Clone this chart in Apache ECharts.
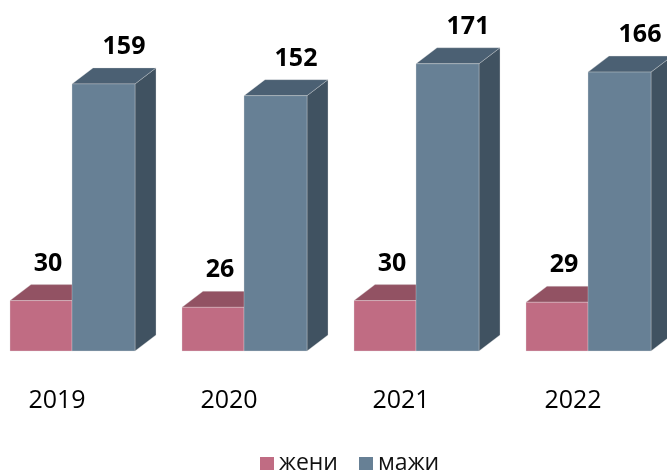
<!DOCTYPE html>
<html>
<head>
<meta charset="utf-8">
<script src="https://cdn.jsdelivr.net/npm/echarts@6/dist/echarts.min.js"></script>
<style>html,body{margin:0;padding:0;background:#fff}#c{width:667px;height:472px}</style>
</head>
<body>
<div id="c"></div>
<script>
const years = ['2019', '2020', '2021', '2022'];
const women = [30, 26, 30, 29];
const men = [159, 152, 171, 166];
const seriesNames = ['жени', 'мажи'];

const chart = echarts.init(document.getElementById('c'), null, {renderer: 'canvas'});

function makeRender(x0, x1, front, topC, side, labelDx) {
  return function (params, api) {
    const cat = api.value(0);
    const v = api.value(1);
    const t = api.coord([cat, v]);
    const b = api.coord([cat, 0]);
    const cx = t[0];
    const xl = cx + x0, xr = cx + x1;
    const yt = t[1], yb = b[1];
    const dx = 21, dy = 16;
    const edge = 'rgba(225,225,225,0.55)';
    return {
      type: 'group',
      children: [
        {type: 'polygon', shape: {points: [[xr, yt], [xr + dx, yt - dy], [xr + dx, yb - dy], [xr, yb]]},
          style: {fill: side, stroke: edge, lineWidth: 0.6}},
        {type: 'polygon', shape: {points: [[xl, yt], [xl + dx, yt - dy], [xr + dx, yt - dy], [xr, yt]]},
          style: {fill: topC, stroke: edge, lineWidth: 0.6}},
        {type: 'rect', shape: {x: xl, y: yt, width: xr - xl, height: yb - yt},
          style: {fill: front, stroke: edge, lineWidth: 0.6}},
        {type: 'text', x: cx + labelDx, y: yt - 37,
          style: {text: String(v), fontSize: 25, fontWeight: 'bold', fontFamily: '"Open Sans", sans-serif',
            fill: '#000', align: 'center', verticalAlign: 'middle'}}
      ]
    };
  };
}

chart.setOption({
  animation: false,
  backgroundColor: '#fff',
  grid: {left: -29, right: 8, top: 15, bottom: 121, outerBoundsMode: 'none', containLabel: false},
  xAxis: {
    type: 'category', data: years,
    axisLine: {show: false}, axisTick: {show: false}, splitLine: {show: false},
    axisLabel: {fontSize: 25, fontFamily: '"Open Sans", sans-serif', color: '#000', margin: 37}
  },
  yAxis: {type: 'value', min: 0, max: 200, show: false},
  legend: {
    data: seriesNames, left: 255, top: 447, icon: 'rect', itemWidth: 14, itemHeight: 13, itemGap: 21,
    textStyle: {fontSize: 23, fontFamily: '"Open Sans", sans-serif', color: '#111'}
  },
  series: [
    {
      name: seriesNames[0], type: 'custom', itemStyle: {color: '#C06C83'},
      encode: {x: 0, y: 1},
      data: years.map((y, i) => [i, women[i]]),
      renderItem: makeRender(-47, 15, '#C06C83', '#925263', '#7E4557', -9)
    },
    {
      name: seriesNames[1], type: 'custom', itemStyle: {color: '#678095'},
      encode: {x: 0, y: 1},
      data: years.map((y, i) => [i, men[i]]),
      renderItem: makeRender(15, 78, '#678095', '#4B6073', '#405261', 67)
    }
  ]
});
</script>
</body>
</html>
